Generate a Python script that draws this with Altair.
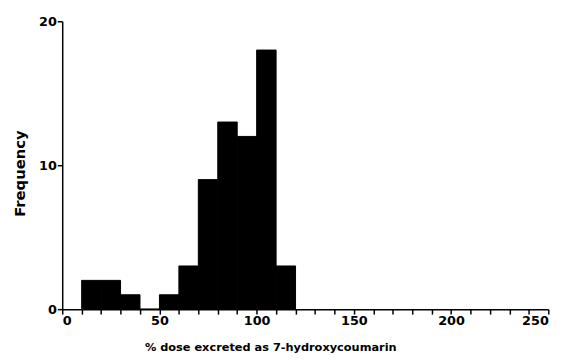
import altair as alt
import pandas as pd

bin_start = [10, 20, 30, 40, 50, 60, 70, 80, 90, 100, 110]
bin_end = [20, 30, 40, 50, 60, 70, 80, 90, 100, 110, 120]
counts = [2, 2, 1, 0, 1, 3, 9, 13, 12, 18, 3]

x_ticks = list(range(0, 251, 10))
y_ticks = [0, 10, 20]

df = pd.DataFrame({"start": bin_start, "end": bin_end, "count": counts})

FONT = "DejaVu Sans"

chart = alt.Chart(df).mark_bar(color="black", stroke="black", strokeWidth=1).encode(
    x=alt.X("start:Q",
            scale=alt.Scale(domain=[0, 250], nice=False, zero=True),
            axis=alt.Axis(title="% dose excreted as 7-hydroxycoumarin",
                          values=x_ticks,
                          labelExpr="datum.value % 50 == 0 ? datum.label : ''",
                          grid=False, tickSize=5, tickColor="black", tickWidth=1.5,
                          domainColor="black", domainWidth=1.5,
                          labelFont=FONT, labelFontWeight="bold", labelFontSize=13,
                          labelColor="black", labelPadding=1,
                          titleFont=FONT, titleFontWeight="bold", titleFontSize=11.5,
                          titleColor="black", titlePadding=14,
                          titleX=211, titleAlign="center")),
    x2="end:Q",
    y=alt.Y("count:Q",
            scale=alt.Scale(domain=[0, 20], nice=False),
            axis=alt.Axis(title="Frequency", values=y_ticks,
                          grid=False, tickSize=5, tickColor="black", tickWidth=1.5,
                          domainColor="black", domainWidth=1.5,
                          labelFont=FONT, labelFontWeight="bold", labelFontSize=13,
                          labelColor="black", labelPadding=1,
                          titleFont=FONT, titleFontWeight="bold", titleFontSize=15,
                          titleColor="black",
                          titleX=-43, titleY=154, titleAlign="center",
                          titleBaseline="middle")),
    y2=alt.datum(0),
).properties(
    width=493, height=292,
    autosize=alt.AutoSizeParams(type="none"),
    padding={"left": 55, "top": 11, "right": 21, "bottom": 42},
).configure(background="white").configure_view(stroke=None, strokeWidth=0)

chart.save("out.html", embed_options={"renderer": "svg", "actions": False})
